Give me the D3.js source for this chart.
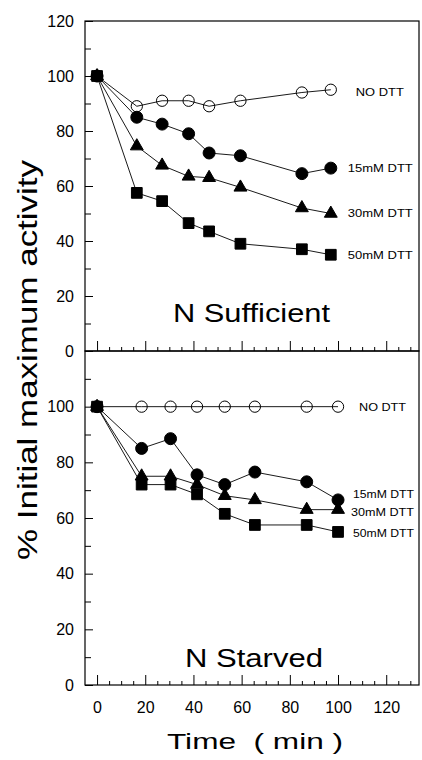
<!DOCTYPE html>
<html>
<head>
<meta charset="utf-8">
<script src="https://cdn.jsdelivr.net/npm/d3@7"></script>
<style>
  body { margin: 0; background: #fff; }
  svg { display: block; font-family: "Liberation Sans", Arial, sans-serif; }
</style>
</head>
<body>
<div id="chart"></div>
<script>
// time points (min)
let xTop = [0, 16.5, 27, 38, 46.5, 59.5, 85, 97];
let xBottom = [0, 18.5, 30.5, 41.5, 53, 65.5, 87, 100];

// N sufficient panel
let topNoDtt = [100, 89, 91, 91, 89, 91, 94, 95];
let top15 = [100, 85, 82.5, 79, 72, 71, 64.5, 66.5];
let top30 = [100, 74.5, 67.5, 63.5, 63, 59.5, 52, 50];
let top50 = [100, 57.5, 54.5, 46.5, 43.5, 39, 37, 35];

// N starved panel
let botNoDtt = [100, 100, 100, 100, 100, 100, 100, 100];
let bot15 = [100, 85, 88.5, 75.5, 72, 76.5, 73, 66.5];
let bot30 = [100, 75, 75, 72, 68, 66.5, 63, 63];
let bot50 = [100, 72, 72, 68.5, 61.5, 57.5, 57.5, 55];

let seriesNames = ["NO DTT", "15mM DTT", "30mM DTT", "50mM DTT"];
let panelTitles = ["N Sufficient", "N Starved"];
let yTicksTop = [0, 20, 40, 60, 80, 100, 120];
let yTicksBottom = [0, 20, 40, 60, 80, 100];
let xTicks = [0, 20, 40, 60, 80, 100, 120];

let width = 422, height = 760;
let left = 85, right = 419;

let svg = d3.select("#chart").append("svg")
    .attr("width", width)
    .attr("height", height);

let x = d3.scaleLinear().domain([-5, 133.6]).range([left, right]);

let panels = [
  { top: 21, bottom: 351, xs: xTop, series: [topNoDtt, top15, top30, top50], yTicks: yTicksTop,
    title: panelTitles[0], titleX: 173, titleY: 322, titleLen: 157,
    labelDx: [25, 17, 17, 17], labelDy: [2, 0, 0, 0], labelLen: [48, 65, 65, 65] },
  { top: 351, bottom: 685, xs: xBottom, series: [botNoDtt, bot15, bot30, bot50], yTicks: yTicksBottom,
    title: panelTitles[1], titleX: 185, titleY: 667, titleLen: 138,
    labelDx: [21, 15, 13, 15], labelDy: [0, -6, 2, 1], labelLen: [47, 61, 63, 61] }
];

let symbols = [
  { type: d3.symbolCircle, size: 100, fill: "none" },
  { type: d3.symbolCircle, size: 113, fill: "#000" },
  { type: d3.symbolTriangle, size: 72, fill: "#000" },
  { type: d3.symbolSquare, size: 115, fill: "#000" }
];

let tickFont = a => a.selectAll("text").attr("font-size", 16).attr("fill", "#000")
    .attr("font-family", "Liberation Sans, Arial, sans-serif");

panels.forEach((p, pi) => {
  let y = d3.scaleLinear().domain([0, 120]).range([p.bottom, p.top]);
  let g = svg.append("g");

  // y axis: major ticks (inward) with labels, minor ticks at 10s
  g.append("g")
      .attr("transform", `translate(${left},0)`)
      .call(d3.axisLeft(y).tickValues(p.yTicks).tickSizeInner(-8).tickSizeOuter(0).tickPadding(11))
      .call(a => a.select(".domain").remove())
      .call(tickFont);
  g.append("g")
      .attr("transform", `translate(${left},0)`)
      .call(d3.axisLeft(y).tickValues(d3.range(10, 120, 20)).tickFormat("").tickSizeInner(-6).tickSizeOuter(0))
      .call(a => a.select(".domain").remove());

  // x axis on bottom edge, ticks pointing up
  g.append("g")
      .attr("transform", `translate(0,${p.bottom})`)
      .call(d3.axisBottom(x).tickValues(xTicks).tickSizeInner(-10).tickSizeOuter(0).tickPadding(17)
          .tickFormat(pi === 1 ? d3.format("d") : ""))
      .call(a => a.select(".domain").remove())
      .call(tickFont);
  g.append("g")
      .attr("transform", `translate(0,${p.bottom})`)
      .call(d3.axisBottom(x).tickValues(d3.range(5, 135, 5).filter(v => v % 20 !== 0)).tickFormat("")
          .tickSizeInner(-4).tickSizeOuter(0))
      .call(a => a.select(".domain").remove());

  g.selectAll(".tick line").attr("stroke", "#000").attr("stroke-width", 1);

  // frame
  g.append("rect")
      .attr("x", left).attr("y", p.top)
      .attr("width", right - left).attr("height", p.bottom - p.top)
      .attr("fill", "none").attr("stroke", "#000").attr("stroke-width", 1.2);

  let line = d3.line().x(d => x(d[0])).y(d => y(d[1]));

  p.series.forEach((vals) => {
    let pts = vals.map((v, i) => [p.xs[i], v]);
    g.append("path")
        .attr("d", line(pts))
        .attr("fill", "none")
        .attr("stroke", "#000")
        .attr("stroke-width", 0.9);
  });

  p.series.forEach((vals, si) => {
    let pts = vals.map((v, i) => [p.xs[i], v]);
    let s = symbols[si];
    g.selectAll(null)
        .data(pts)
        .enter().append("path")
        .attr("transform", d => `translate(${x(d[0])},${y(d[1])})`)
        .attr("d", d3.symbol().type(s.type).size(s.size))
        .attr("fill", s.fill)
        .attr("stroke", "#000")
        .attr("stroke-width", 1);

    let last = pts[pts.length - 1];
    g.append("text")
        .attr("x", x(last[0]) + p.labelDx[si])
        .attr("y", y(last[1]) + p.labelDy[si])
        .attr("dy", "0.35em")
        .attr("font-size", 11)
        .attr("textLength", p.labelLen[si])
        .attr("lengthAdjust", "spacingAndGlyphs")
        .text(seriesNames[si]);
  });

  g.append("text")
      .attr("x", p.titleX)
      .attr("y", p.titleY)
      .attr("font-size", 25)
      .attr("textLength", p.titleLen)
      .attr("lengthAdjust", "spacingAndGlyphs")
      .text(p.title);
});

// axis titles
svg.append("text")
    .attr("transform", "translate(37,360) rotate(-90)")
    .attr("text-anchor", "middle")
    .attr("font-size", 28)
    .attr("textLength", 400)
    .attr("lengthAdjust", "spacingAndGlyphs")
    .text("% Initial maximum activity");

svg.append("text")
    .attr("x", 167)
    .attr("y", 749)
    .attr("font-size", 22)
    .attr("textLength", 176)
    .attr("lengthAdjust", "spacingAndGlyphs")
    .style("white-space", "pre")
    .text("Time  ( min )");
</script>
</body>
</html>
